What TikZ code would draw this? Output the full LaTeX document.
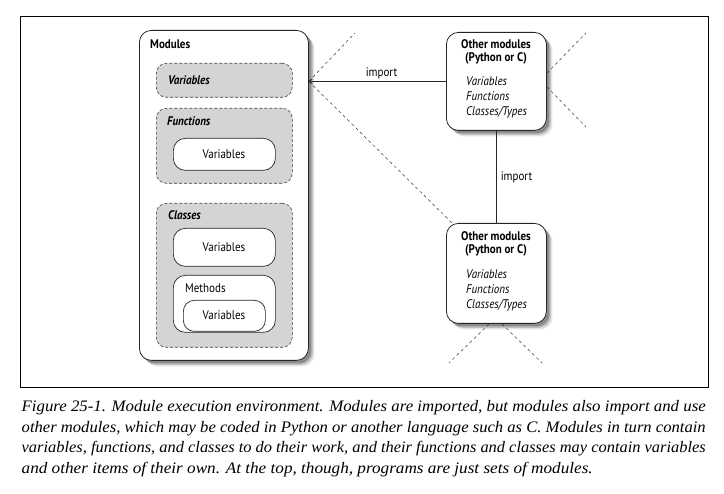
\documentclass[tikz,border=0pt]{standalone}
\usepackage{fontspec}
\usepackage{graphicx}
\setmainfont[FakeStretch=0.88]{PT Sans}
\newfontfamily\capfont{Liberation Serif}
\usetikzlibrary{shadows,arrows.meta}
\begin{document}
\begin{tikzpicture}[x=1pt,y=-1pt,
  font=\fontsize{12.5}{14}\selectfont,
  frame/.style={draw=black, line width=1.1pt, inner sep=0pt, anchor=north west},
  outer/.style={draw=black!85, line width=0.8pt, rounded corners=12pt, fill=white,
    drop shadow={shadow xshift=6pt, shadow yshift=-6pt, fill=black!20},
    drop shadow={shadow xshift=4.5pt, shadow yshift=-4.5pt, fill=black!40},
    drop shadow={shadow xshift=3pt, shadow yshift=-3pt, fill=black!65},
    inner sep=0pt, anchor=north west},
  grp/.style={draw=black!75, line width=0.6pt, dash pattern=on 3pt off 2pt, fill=black!17,
    rounded corners=10pt, inner sep=0pt, anchor=north west},
  pill/.style={draw=black!85, line width=0.7pt, fill=white, rounded corners=12pt,
    inner sep=0pt, anchor=north west},
  lbl/.style={inner sep=0pt, anchor=base west},
  glbl/.style={inner sep=0pt, anchor=base west, font=\fontsize{12.5}{14}\selectfont\bfseries\itshape},
  ctr/.style={inner sep=0pt, anchor=base},
  conn/.style={draw=black!85, line width=0.7pt},
  dsh/.style={draw=black!80, line width=0.5pt, dash pattern=on 3pt off 3pt},
  caption/.style={inner sep=0pt, anchor=base west, font=\capfont\itshape\fontsize{16}{20}\selectfont}
]
\useasboundingbox (0,0) rectangle (724,494);
\node[frame, minimum width=688pt, minimum height=371pt] (frame) at (20,16) {};

% Modules
\node[outer, minimum width=169pt, minimum height=330pt] (mod) at (139,30) {};
\node[lbl, font=\fontsize{12.5}{14}\selectfont\bfseries] (modlbl) at (150,49) {Modules};

\node[grp, minimum width=136pt, minimum height=34pt] (gvar) at (156,63) {};
\node[glbl] (gvarlbl) at (168,84.5) {Variables};

\node[grp, minimum width=136pt, minimum height=75pt] (gfun) at (156,108) {};
\node[glbl] (gfunlbl) at (167,126) {Functions};
\node[pill, minimum width=102pt, minimum height=32pt] (fvar) at (173,138) {};
\node[ctr] (fvarlbl) at (224,159) {Variables};

\node[grp, minimum width=136pt, minimum height=144pt] (gcls) at (156,203) {};
\node[glbl] (gclslbl) at (168,220) {Classes};
\node[pill, minimum width=102pt, minimum height=38pt] (cvar) at (173,228) {};
\node[ctr] (cvarlbl) at (224,252) {Variables};
\node[pill, minimum width=102pt, minimum height=57pt] (meth) at (173,275) {};
\node[lbl] (methlbl) at (185,293) {Methods};
\node[pill, minimum width=82pt, minimum height=31pt, rounded corners=11pt] (mvar) at (183,300) {};
\node[ctr] (mvarlbl) at (224,320) {Variables};

% Other modules (top)
\node[outer, minimum width=100pt, minimum height=98pt] (o1) at (446,32) {};
\node[ctr, font=\fontsize{12.5}{14}\selectfont\bfseries] (o1a) at (496,49) {Other modules};
\node[ctr, font=\fontsize{12.5}{14}\selectfont\bfseries] (o1b) at (496,61.5) {(Python or C)};
\node[lbl, font=\fontsize{12.5}{14}\selectfont\itshape] (o1c) at (466,86) {Variables};
\node[lbl, font=\fontsize{12.5}{14}\selectfont\itshape] (o1d) at (466,101) {Functions};
\node[lbl, font=\fontsize{12.5}{14}\selectfont\itshape] (o1e) at (466,116) {Classes/Types};

% Other modules (bottom)
\node[outer, minimum width=100pt, minimum height=100pt] (o2) at (446,223) {};
\node[ctr, font=\fontsize{12.5}{14}\selectfont\bfseries] (o2a) at (496,241) {Other modules};
\node[ctr, font=\fontsize{12.5}{14}\selectfont\bfseries] (o2b) at (496,253.5) {(Python or C)};
\node[lbl, font=\fontsize{12.5}{14}\selectfont\itshape] (o2c) at (466,279) {Variables};
\node[lbl, font=\fontsize{12.5}{14}\selectfont\itshape] (o2d) at (466,294) {Functions};
\node[lbl, font=\fontsize{12.5}{14}\selectfont\itshape] (o2e) at (466,309) {Classes/Types};

% connectors
\coordinate (mtip) at (mod.east |- o1.west);
\draw[conn, -{Straight Barb[length=3pt,width=5pt]}] (o1.west) -- (mtip)
  node[pos=0.47, above=2pt, inner sep=0pt] (imp1) {import};
\draw[conn] (o1.south) -- (o2.north)
  node[pos=0.5, right=4pt, inner sep=0pt] (imp2) {import};

% dashed context lines
\coordinate (d1a) at (355,33);
\coordinate (d1b) at (453,224);
\draw[dsh] (mtip) -- (d1a);
\draw[dsh] (mtip) -- (d1b);
\coordinate (e1s) at (547,73);
\coordinate (e1e) at (586,33);
\coordinate (e2s) at (547,87);
\coordinate (e2e) at (586,127);
\draw[dsh] (e1s) -- (e1e);
\draw[dsh] (e2s) -- (e2e);
\coordinate (f1s) at (489,324);
\coordinate (f1e) at (449,363);
\coordinate (f2s) at (502,324);
\coordinate (f2e) at (542,363);
\draw[dsh] (f1s) -- (f1e);
\draw[dsh] (f2s) -- (f2e);

% caption
\node[caption] (cap1) at (21.5,412) {\resizebox{684pt}{\height}{Figure 25-1. Module execution environment. Modules are imported, but modules also import and use}};
\node[caption] (cap2) at (21.5,432.5) {\resizebox{684pt}{\height}{other modules, which may be coded in Python or another language such as C. Modules in turn contain}};
\node[caption] (cap3) at (21.5,453) {\resizebox{684pt}{\height}{variables, functions, and classes to do their work, and their functions and classes may contain variables}};
\node[caption] (cap4) at (21.5,473.5) {\resizebox{571pt}{\height}{and other items of their own. At the top, though, programs are just sets of modules.}};
\end{tikzpicture}
\end{document}
